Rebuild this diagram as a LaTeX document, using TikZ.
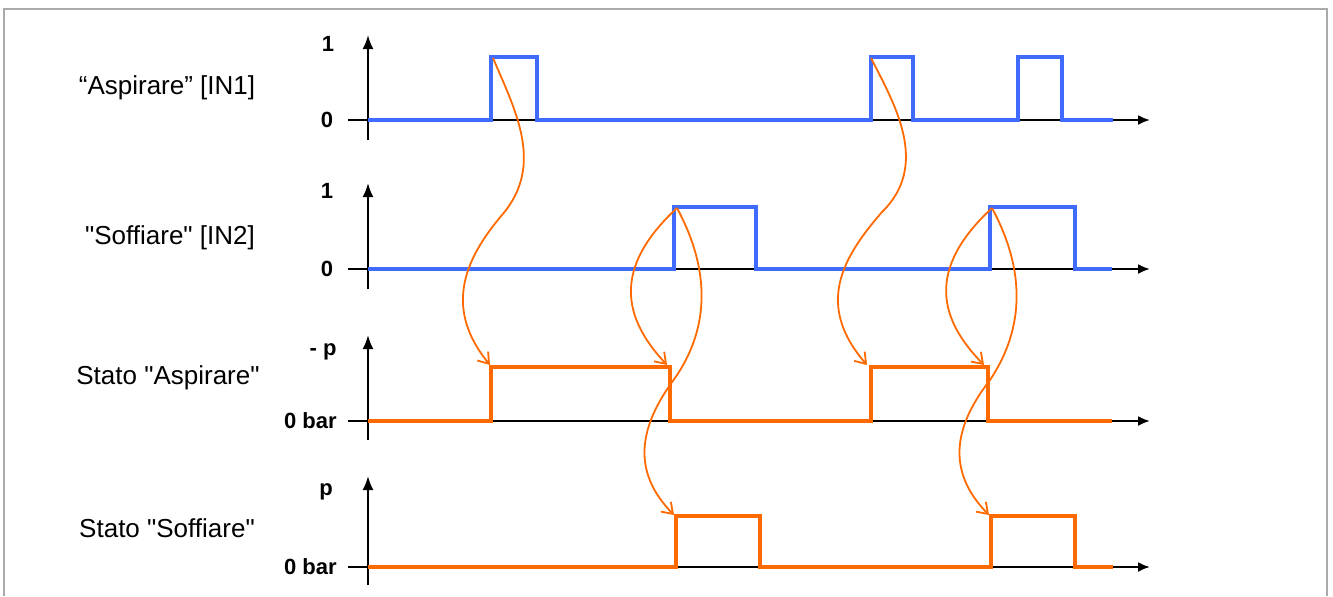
\documentclass[tikz,border=0pt]{standalone}
\usepackage{fontspec}
\setmainfont{Liberation Sans}[Ligatures=TeXOff]
\usetikzlibrary{arrows.meta}
\definecolor{sigblue}{RGB}{64,107,255}
\definecolor{sigorange}{RGB}{255,106,0}
\definecolor{framegrey}{RGB}{170,170,170}
\begin{document}
\begin{tikzpicture}[x=0.5pt,y=-0.5pt,
  axis/.style={line width=1.1pt,-{Latex[length=6pt,width=5pt]}},
  vaxis/.style={line width=1.1pt,-{Latex[length=7pt,width=5.5pt]}},
  tick/.style={line width=1.1pt},
  bluesig/.style={sigblue,line width=2pt,line join=miter},
  orsig/.style={sigorange,line width=2.3pt,line join=miter},
  link/.style={sigorange,line width=0.9pt,-{Straight Barb[length=5pt,width=7pt,line width=0.9pt]}},
  title/.style={font=\fontsize{13}{15}\selectfont,inner sep=0pt},
  alab/.style={font=\fontsize{11}{13}\selectfont\bfseries,inner sep=0pt}]
\useasboundingbox (0,0) rectangle (1333,596);
\draw[framegrey,line width=0.8pt] (4,596) -- (4,9) -- (1327,9) -- (1327,596);

% titles
\node[title] (t1) at (167,88) {“Aspirare” [IN1]};
\node[title] (t2) at (170,238) {"Soffiare" [IN2]};
\node[title] (t3) at (168,378) {Stato "Aspirare"};
\node[title] (t4) at (167,528) {Stato "Soffiare"};

% axis labels
\node[alab] (l11) at (328,44) {1};
\node[alab] (l10) at (327,120) {0};
\node[alab] (l21) at (327,191) {1};
\node[alab] (l20) at (327,269) {0};
\node[alab,anchor=east] (l31) at (337,352) {- p};
\node[alab,anchor=east] (l30) at (337,421) {0 bar};
\node[alab] (l41) at (326,492) {p};
\node[alab,anchor=east] (l40) at (337,567) {0 bar};

% axes
\foreach \b/\top/\bot in {120/35/140, 269/183/289, 421/335/440, 567/476/585}{
  \draw[vaxis] (368,\bot) -- (368,\top);
  \draw[tick] (348,\b) -- (368,\b);
  \draw[axis] (368,\b) -- (1150,\b);
}

% signals
\draw[bluesig] (368,120) -- (491,120) -- (491,57) -- (537,57) -- (537,120) -- (871,120) -- (871,57) -- (913,57) -- (913,120) -- (1018,120) -- (1018,57) -- (1062,57) -- (1062,120) -- (1113,120);
\draw[bluesig] (368,269) -- (674,269) -- (674,207) -- (756,207) -- (756,269) -- (990,269) -- (990,207) -- (1075,207) -- (1075,269) -- (1112,269);
\draw[orsig] (368,421) -- (491,421) -- (491,367) -- (670,367) -- (670,421) -- (871,421) -- (871,367) -- (988,367) -- (988,421) -- (1112,421);
\draw[orsig] (368,567) -- (676,567) -- (676,516) -- (760,516) -- (760,567) -- (991,567) -- (991,516) -- (1075,516) -- (1075,567) -- (1113,567);

% link end points
\coordinate (a1) at (493,58);
\coordinate (a2) at (871,58);
\coordinate (b1) at (677,208);
\coordinate (b2) at (992,208);
\coordinate (c1) at (490,365);
\coordinate (c2) at (667,365);
\coordinate (c3) at (867,365);
\coordinate (c4) at (984,365);
\coordinate (d1) at (674,515);
\coordinate (d2) at (989,515);

% links
\draw[link] (a1) .. controls (515,110) and (545,165) .. (502,215) .. controls (462,262) and (445,310) .. (c1);
\draw[link] (b1) .. controls (610,270) and (625,320) .. (c2);
\draw[link] (b1) .. controls (705,260) and (715,320) .. (675,378) .. controls (640,425) and (630,470) .. (d1);
\draw[link] (a2) .. controls (895,105) and (930,165) .. (882,212) .. controls (842,258) and (815,305) .. (c3);
\draw[link] (b2) .. controls (925,270) and (940,320) .. (c4);
\draw[link] (b2) .. controls (1020,260) and (1030,320) .. (990,380) .. controls (955,425) and (945,470) .. (d2);
\end{tikzpicture}
\end{document}
